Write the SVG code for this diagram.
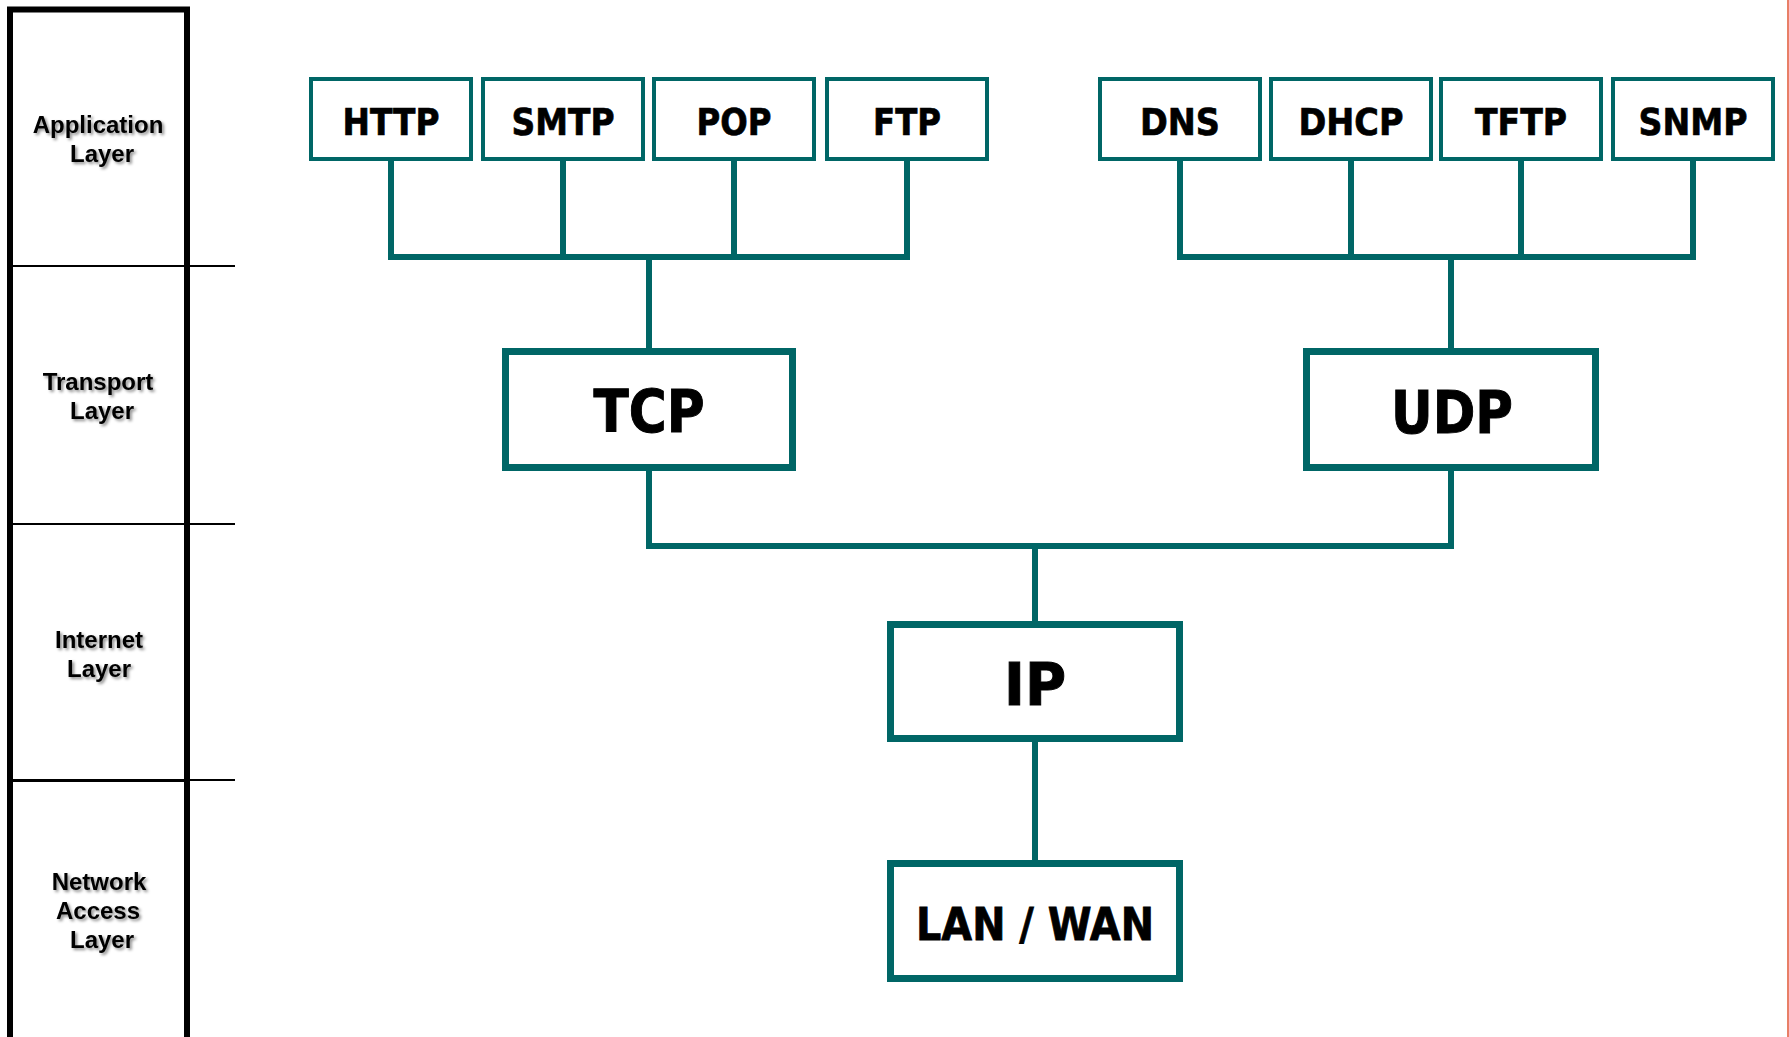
<svg xmlns="http://www.w3.org/2000/svg" width="1789" height="1037" viewBox="0 0 1789 1037">
  <defs>
    <filter id="soft-shadow" x="-20%" y="-30%" width="140%" height="160%">
      <feDropShadow dx="2" dy="2" stdDeviation="1.4" flood-color="#000" flood-opacity="0.45"/>
    </filter>
    <style>
      .panel { fill: none; stroke: #000; stroke-width: 6; }
      .divider { stroke: #000; stroke-width: 2; }
      .layer-label { font-family: "Liberation Sans", Arial, sans-serif; font-weight: bold; font-size: 24px; fill: #000; text-anchor: middle; filter: url(#soft-shadow); }
      .proto { fill: #fff; stroke: #006666; stroke-width: 4; }
      .core { fill: #fff; stroke: #006666; stroke-width: 7; }
      .proto-text { font-family: "DejaVu Sans", Verdana, sans-serif; font-weight: bold; font-size: 38px; fill: #000; stroke: #000; stroke-width: 0.7; text-anchor: middle; }
      .core-text { font-family: "DejaVu Sans", Verdana, sans-serif; font-weight: bold; font-size: 58px; fill: #000; stroke: #000; stroke-width: 1; text-anchor: middle; }
      .link { fill: none; stroke: #006666; stroke-width: 6; }
    </style>
  </defs>

  <rect width="1789" height="1037" fill="#fff"/>
  <!-- thin border at the right edge -->
  <line x1="1788" y1="0" x2="1788" y2="1037" stroke="#e05434" stroke-width="1.5"/>

  <!-- layer column -->
  <g id="layers">
    <path class="panel" d="M10,1040 V9.5 H187 V1040"/>
    <line class="divider" x1="13" y1="266" x2="235" y2="266"/>
    <line class="divider" x1="13" y1="524" x2="235" y2="524"/>
    <line class="divider" x1="13" y1="780" x2="235" y2="780"/>
    <line x1="13" y1="780.5" x2="184" y2="780.5" stroke="#000" stroke-width="3"/>
    <g id="layer-application">
      <text class="layer-label" x="98" y="133">Application</text>
      <text class="layer-label" x="102" y="162">Layer</text>
    </g>
    <g id="layer-transport">
      <text class="layer-label" x="98" y="390">Transport</text>
      <text class="layer-label" x="102" y="419">Layer</text>
    </g>
    <g id="layer-internet">
      <text class="layer-label" x="99" y="648">Internet</text>
      <text class="layer-label" x="99" y="677">Layer</text>
    </g>
    <g id="layer-network">
      <text class="layer-label" x="99" y="890">Network</text>
      <text class="layer-label" x="98" y="919">Access</text>
      <text class="layer-label" x="102" y="948">Layer</text>
    </g>
  </g>

  <!-- connectors -->
  <g id="connectors">
    <path class="link" d="M391,161 V257 M563,161 V257 M734,161 V257 M907,161 V257 M388,257 H910"/>
    <path class="link" d="M649,257 V348"/>
    <path class="link" d="M1180,161 V257 M1351,161 V257 M1521,161 V257 M1693,161 V257 M1177,257 H1696"/>
    <path class="link" d="M1451,257 V348"/>
    <path class="link" d="M649,471 V546 H1451 V471"/>
    <path class="link" d="M1035,546 V621"/>
    <path class="link" d="M1035,742 V860"/>
  </g>

  <!-- application protocols -->
  <g id="http"><rect class="proto" x="311" y="79" width="160" height="80"/><text class="proto-text" x="391" y="135" textLength="97" lengthAdjust="spacingAndGlyphs">HTTP</text></g>
  <g id="smtp"><rect class="proto" x="483" y="79" width="160" height="80"/><text class="proto-text" x="563" y="135" textLength="103" lengthAdjust="spacingAndGlyphs">SMTP</text></g>
  <g id="pop"><rect class="proto" x="654" y="79" width="160" height="80"/><text class="proto-text" x="734" y="135" textLength="75" lengthAdjust="spacingAndGlyphs">POP</text></g>
  <g id="ftp"><rect class="proto" x="827" y="79" width="160" height="80"/><text class="proto-text" x="907" y="135" textLength="68" lengthAdjust="spacingAndGlyphs">FTP</text></g>
  <g id="dns"><rect class="proto" x="1100" y="79" width="160" height="80"/><text class="proto-text" x="1180" y="135" textLength="80" lengthAdjust="spacingAndGlyphs">DNS</text></g>
  <g id="dhcp"><rect class="proto" x="1271" y="79" width="160" height="80"/><text class="proto-text" x="1351" y="135" textLength="105" lengthAdjust="spacingAndGlyphs">DHCP</text></g>
  <g id="tftp"><rect class="proto" x="1441" y="79" width="160" height="80"/><text class="proto-text" x="1521" y="135" textLength="92" lengthAdjust="spacingAndGlyphs">TFTP</text></g>
  <g id="snmp"><rect class="proto" x="1613" y="79" width="160" height="80"/><text class="proto-text" x="1693" y="135" textLength="109" lengthAdjust="spacingAndGlyphs">SNMP</text></g>

  <!-- transport, internet and link protocols -->
  <g id="tcp"><rect class="core" x="505.5" y="351.5" width="287" height="116"/><text class="core-text" x="649" y="432" textLength="111" lengthAdjust="spacingAndGlyphs">TCP</text></g>
  <g id="udp"><rect class="core" x="1306.5" y="351.5" width="289" height="116"/><text class="core-text" x="1452" y="433" textLength="122" lengthAdjust="spacingAndGlyphs">UDP</text></g>
  <g id="ip"><rect class="core" x="890.5" y="624.5" width="289" height="114"/><text class="core-text" x="1035" y="705" textLength="62" lengthAdjust="spacingAndGlyphs">IP</text></g>
  <g id="lan-wan"><rect class="core" x="890.5" y="863.5" width="289" height="115"/><text class="core-text" x="1035" y="940" style="font-size:44px; stroke-width:0.8" textLength="238" lengthAdjust="spacingAndGlyphs">LAN / WAN</text></g>
</svg>
